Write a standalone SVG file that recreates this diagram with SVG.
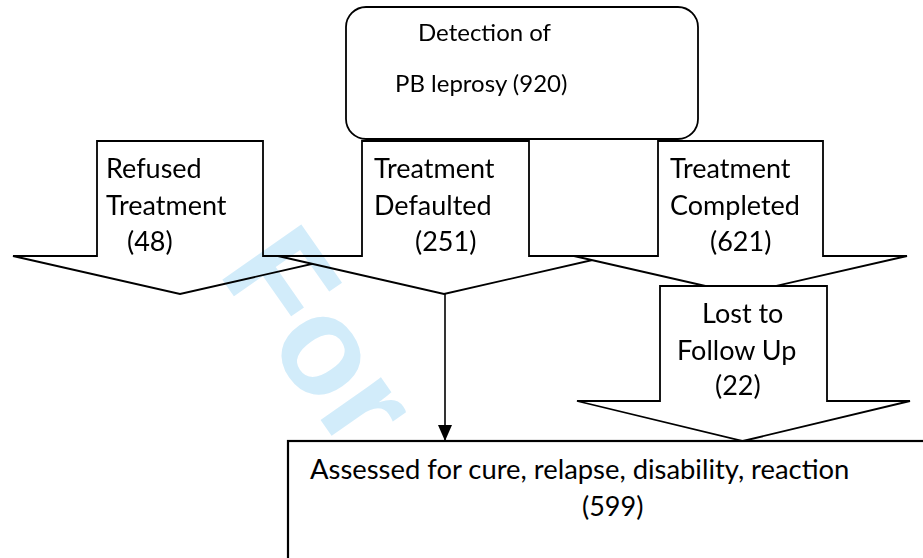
<svg xmlns="http://www.w3.org/2000/svg" width="923" height="558" viewBox="0 0 923 558">
<style>
.shape{fill:#fff;stroke:#000;stroke-width:1.8;stroke-linejoin:miter}
.t{font-family:Lato,"Liberation Sans",sans-serif;font-size:27px;fill:#000}
.ts{font-family:Lato,"Liberation Sans",sans-serif;font-size:24px;fill:#000}
.wm{font-family:"Liberation Sans",Arial,sans-serif;font-weight:bold;font-size:140px;fill:#d2ecfa;mix-blend-mode:multiply}
</style>
<defs>
<marker id="ah" viewBox="0 0 16 14" refX="16" refY="7" markerWidth="16" markerHeight="14" markerUnits="userSpaceOnUse" orient="auto">
<path d="M0,0 L16,7 L0,14 Z" fill="#000"/>
</marker>
</defs>
<rect width="923" height="558" fill="#fff"/>
<g id="refused">
<path class="shape" d="M97,141 H263 V256 H347 L180,294 L13,256 H97 Z"/>
<text class="t" x="106" y="178">Refused</text>
<text class="t" x="106" y="215">Treatment</text>
<text class="t" x="127" y="251">(48)</text>
</g>
<g id="defaulted">
<path class="shape" d="M362,141 H529 V256 H610 L444,294 L278,256 H362 Z"/>
<text class="t" x="374" y="178">Treatment</text>
<text class="t" x="374" y="215">Defaulted</text>
<text class="t" x="415" y="251">(251)</text>
</g>
<g id="completed">
<path class="shape" d="M658,141 H823 V256 H907 L740.5,294 L574,256 H658 Z"/>
<text class="t" x="670" y="178">Treatment</text>
<text class="t" x="670" y="215">Completed</text>
<text class="t" x="710" y="251">(621)</text>
</g>
<g id="lost">
<path class="shape" d="M660,286 H827 V401 H910 L743,441 L577,401 H660 Z"/>
<text class="t" x="702" y="323">Lost to</text>
<text class="t" x="677" y="360">Follow Up</text>
<text class="t" x="715" y="395">(22)</text>
</g>
<g id="detection">
<rect class="shape" x="346" y="7" width="352" height="132" rx="20" ry="20"/>
<text class="ts" x="418" y="41">Detection of</text>
<text class="ts" x="395" y="92">PB leprosy (920)</text>
</g>
<text class="wm" transform="translate(217,272) rotate(55)">For</text>
<g id="assessed">
<rect class="shape" x="288" y="441" width="700" height="200" style="stroke-width:2.2"/>
<text class="t" x="310" y="479" style="font-size:27.4px">Assessed for cure, relapse, disability, reaction</text>
<text class="t" x="582" y="516">(599)</text>
</g>
<g id="connectors">
<line x1="445" y1="294" x2="445" y2="441" stroke="#000" stroke-width="1.6" marker-end="url(#ah)"/>
</g>
</svg>
